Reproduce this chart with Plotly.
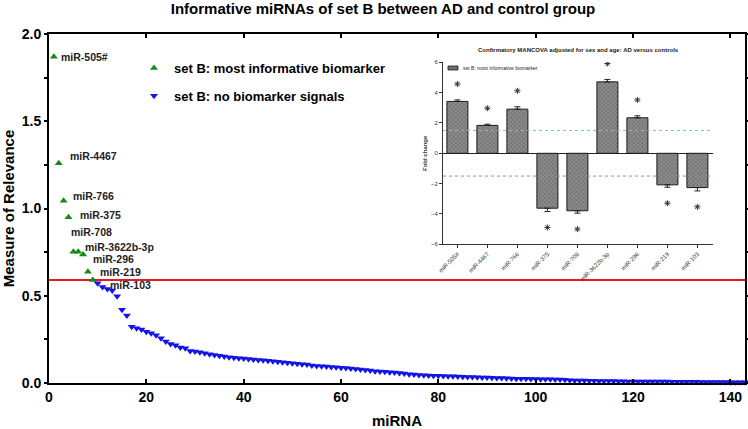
import plotly.graph_objects as go

# ---------------- main chart data ----------------
green_x = [1, 2, 3, 4, 5, 6, 7, 8, 9]
green_y = [1.870, 1.260, 1.045, 0.950, 0.752, 0.752, 0.737, 0.638, 0.590]
green_labels = ["miR-505#", "miR-4467", "miR-766", "miR-375", "miR-708",
                "miR-3622b-3p", "miR-296", "miR-219", "miR-103"]

blue_y = [
    0.571, 0.550, 0.538, 0.530, 0.497, 0.420, 0.387, 0.323, 0.314, 0.307,
    0.293, 0.285, 0.274, 0.257, 0.238, 0.224, 0.216, 0.203, 0.199, 0.184,
    0.180, 0.176, 0.171, 0.165, 0.160, 0.156, 0.152, 0.148, 0.145, 0.142,
    0.140, 0.137, 0.134, 0.132, 0.130, 0.128, 0.125, 0.122, 0.119, 0.116,
    0.113, 0.111, 0.108, 0.106, 0.101, 0.098, 0.096, 0.094, 0.092, 0.090,
    0.088, 0.086, 0.083, 0.080, 0.077, 0.074, 0.071, 0.068, 0.066, 0.064,
    0.062, 0.060, 0.058, 0.055, 0.050, 0.048, 0.046, 0.044, 0.043, 0.042,
    0.041, 0.040, 0.039, 0.038, 0.037, 0.036, 0.035, 0.034, 0.033, 0.032,
    0.031, 0.030, 0.029, 0.028, 0.027, 0.026, 0.025, 0.025, 0.024, 0.023,
    0.023, 0.022, 0.021, 0.021, 0.020, 0.020, 0.019, 0.016, 0.015, 0.015,
    0.014, 0.013, 0.013, 0.012, 0.012, 0.011, 0.011, 0.010, 0.010, 0.009,
    0.009, 0.009, 0.009, 0.008, 0.008, 0.008, 0.008, 0.008, 0.007, 0.007,
    0.007, 0.007, 0.007, 0.007, 0.006, 0.006, 0.006, 0.006, 0.006, 0.006,
    0.005, 0.005, 0.005, 0.005,
]
blue_x = list(range(10, 10 + len(blue_y)))
threshold = 0.59

x_ticks = [0, 20, 40, 60, 80, 100, 120, 140]
y_ticks = [0.0, 0.5, 1.0, 1.5, 2.0]

# ---------------- inset data ----------------
inset_cats = ["miR-505#", "miR-4467", "miR-766", "miR-375", "miR-708",
              "miR-3622b-3p", "miR-296", "miR-219", "miR-103"]
fold_change = [3.42, 1.84, 2.91, -3.62, -3.79, 4.71, 2.34, -2.08, -2.26]
fold_err = [0.10, 0.08, 0.16, 0.22, 0.16, 0.16, 0.13, 0.16, 0.22]
fold_cut = 1.5
inset_yticks = [-6, -4, -2, 0, 2, 4, 6]
inset_legend_text = "set B: most informative biomarker"

# label offsets (pixels) for the green point labels
label_dx = [5, 9, 7, 9.5, -4.7, 5, 8, 10, 15]
label_dy = [0, 7, 5, 2.4, 20, 4.5, -5, 0, -5]

FONT = "Liberation Sans, Arial, sans-serif"
GREEN = "#178a17"
BLUE = "#1414e6"


def px_x(p):
    return (p - 49) / 696


def px_y(p):
    return (383 - p) / 349


fig = go.Figure()

fig.add_trace(go.Scatter(
    x=green_x, y=green_y, mode="markers",
    name="set B: most informative biomarker",
    marker=dict(symbol="triangle-up", size=7, color=GREEN),
    legendgroup="g1", cliponaxis=False,
))
fig.add_trace(go.Scatter(
    x=blue_x, y=blue_y, mode="markers",
    name="set B: no biomarker signals",
    marker=dict(symbol="triangle-down", size=7, color=BLUE),
    legendgroup="g2", cliponaxis=False,
))

# threshold line
fig.add_shape(type="line", xref="x domain", yref="y", x0=0, x1=1,
              y0=threshold, y1=threshold, line=dict(color="#e8191f", width=2),
              layer="below")

for xv, yv, lab, dx, dy in zip(green_x, green_y, green_labels, label_dx, label_dy):
    fig.add_annotation(x=xv, y=yv, xref="x", yref="y", text="<b>%s</b>" % lab,
                       showarrow=False, xanchor="left", yanchor="middle",
                       xshift=dx, yshift=dy,
                       font=dict(family=FONT, size=10.5, color="#222"))

# ---------------- inset ----------------
pos_plus = [e if v > 0 else 0 for v, e in zip(fold_change, fold_err)]
neg_minus = [e if v < 0 else 0 for v, e in zip(fold_change, fold_err)]

fig.add_trace(go.Bar(
    x=inset_cats, y=fold_change, xaxis="x2", yaxis="y2", width=0.7,
    name=inset_legend_text, showlegend=False,
    marker=dict(color="#7e7e7e", line=dict(color="#1a1a1a", width=1),
                pattern=dict(shape="x", fgcolor="#3c3c3c", bgcolor="#8c8c8c",
                             size=3, solidity=0.35)),
    error_y=dict(type="data", symmetric=False, array=pos_plus,
                 arrayminus=neg_minus, color="#222", thickness=1, width=3),
))

star_y = [v + (1 if v > 0 else -1) * (e + 1.05) for v, e in zip(fold_change, fold_err)]
fig.add_trace(go.Scatter(
    x=inset_cats, y=star_y, xaxis="x2", yaxis="y2", mode="markers",
    marker=dict(symbol="asterisk-open", size=5, color="#333",
                line=dict(color="#333", width=1)),
    showlegend=False,
))

fig.add_shape(type="line", xref="x2 domain", yref="y2", x0=0, x1=1,
              y0=fold_cut, y1=fold_cut, line=dict(color="#7cc8a8", width=1, dash="dot"))
fig.add_shape(type="line", xref="x2 domain", yref="y2", x0=0, x1=1,
              y0=-fold_cut, y1=-fold_cut, line=dict(color="#e07070", width=1, dash="dot"))

# inset legend (swatch + text)
fig.add_shape(type="rect", xref="paper", yref="paper",
              x0=px_x(448), x1=px_x(458), y0=px_y(70), y1=px_y(66),
              fillcolor="#6e6e6e", line=dict(color="#1a1a1a", width=0.8))
fig.add_annotation(text=inset_legend_text, xref="paper", yref="paper",
                   x=px_x(461), y=px_y(68), showarrow=False,
                   xanchor="left", yanchor="middle",
                   font=dict(family=FONT, size=5, color="#222"))

fig.add_annotation(text="<b>Confirmatory MANCOVA adjusted for sex and age: AD versus controls</b>",
                   xref="paper", yref="paper", x=px_x(578), y=px_y(50),
                   showarrow=False, xanchor="center", yanchor="middle",
                   font=dict(family=FONT, size=6, color="#222"))

fig.update_layout(
    width=748, height=429,
    margin=dict(l=49, r=3, t=34, b=46),
    paper_bgcolor="white", plot_bgcolor="white",
    font=dict(family=FONT, color="black"),
    title=dict(text="<b>Informative miRNAs of set B between AD and control group</b>",
               font=dict(family=FONT, size=15, color="black"),
               x=0.512, xref="container", xanchor="center",
               y=1 - 3.5 / 429, yref="container", yanchor="top", pad=dict(t=0, b=0)),
    showlegend=True,
    legend=dict(x=px_x(134), y=px_y(53), xanchor="left", yanchor="top",
                bgcolor="rgba(0,0,0,0)", traceorder="grouped", tracegroupgap=8,
                font=dict(family=FONT, size=13, color="black", weight="bold")),
    xaxis=dict(range=[0, 143], tickvals=x_ticks, showline=True, linecolor="black",
               linewidth=2, mirror="ticks", ticks="inside", ticklen=4, tickwidth=2,
               tickcolor="black", showgrid=False, zeroline=False, automargin=False,
               tickfont=dict(family=FONT, size=14, weight="bold"),
               title=dict(text="<b>miRNA</b>", font=dict(family=FONT, size=15), standoff=16)),
    yaxis=dict(range=[0, 2], tickvals=y_ticks, tickformat=".1f", showline=True,
               linecolor="black", linewidth=2, mirror="ticks", ticks="outside",
               ticklen=3, tickwidth=2, tickcolor="black", showgrid=False, zeroline=False,
               automargin=False,
               minor=dict(dtick=0.25, ticks="outside", ticklen=3, tickcolor="black"),
               tickfont=dict(family=FONT, size=14, weight="bold"),
               title=dict(text="<b>Measure of Relevance</b>", font=dict(family=FONT, size=15),
                          standoff=6)),
    xaxis2=dict(domain=[px_x(443), px_x(713)], anchor="y2",
                range=[-0.48, 8.52], showline=True, linecolor="#333", linewidth=1,
                ticks="outside", ticklen=3, tickcolor="#333", tickangle=-45,
                showgrid=False, zeroline=False, automargin=False,
                tickfont=dict(family=FONT, size=6, color="#333")),
    yaxis2=dict(domain=[px_y(244.3), px_y(62.3)], anchor="x2",
                range=[-6, 6], tickvals=inset_yticks, showline=True, linecolor="#333",
                linewidth=1, ticks="outside", ticklen=3, tickcolor="#333",
                showgrid=False, zeroline=True, zerolinecolor="#222", zerolinewidth=1,
                automargin=False,
                tickfont=dict(family=FONT, size=6, color="#333"),
                title=dict(text="<b>Fold change</b>", font=dict(family=FONT, size=6, color="#333"),
                           standoff=2)),
)

fig.write_html("out.html", config={"displayModeBar": False},
               post_script="document.body.style.margin='0';")
